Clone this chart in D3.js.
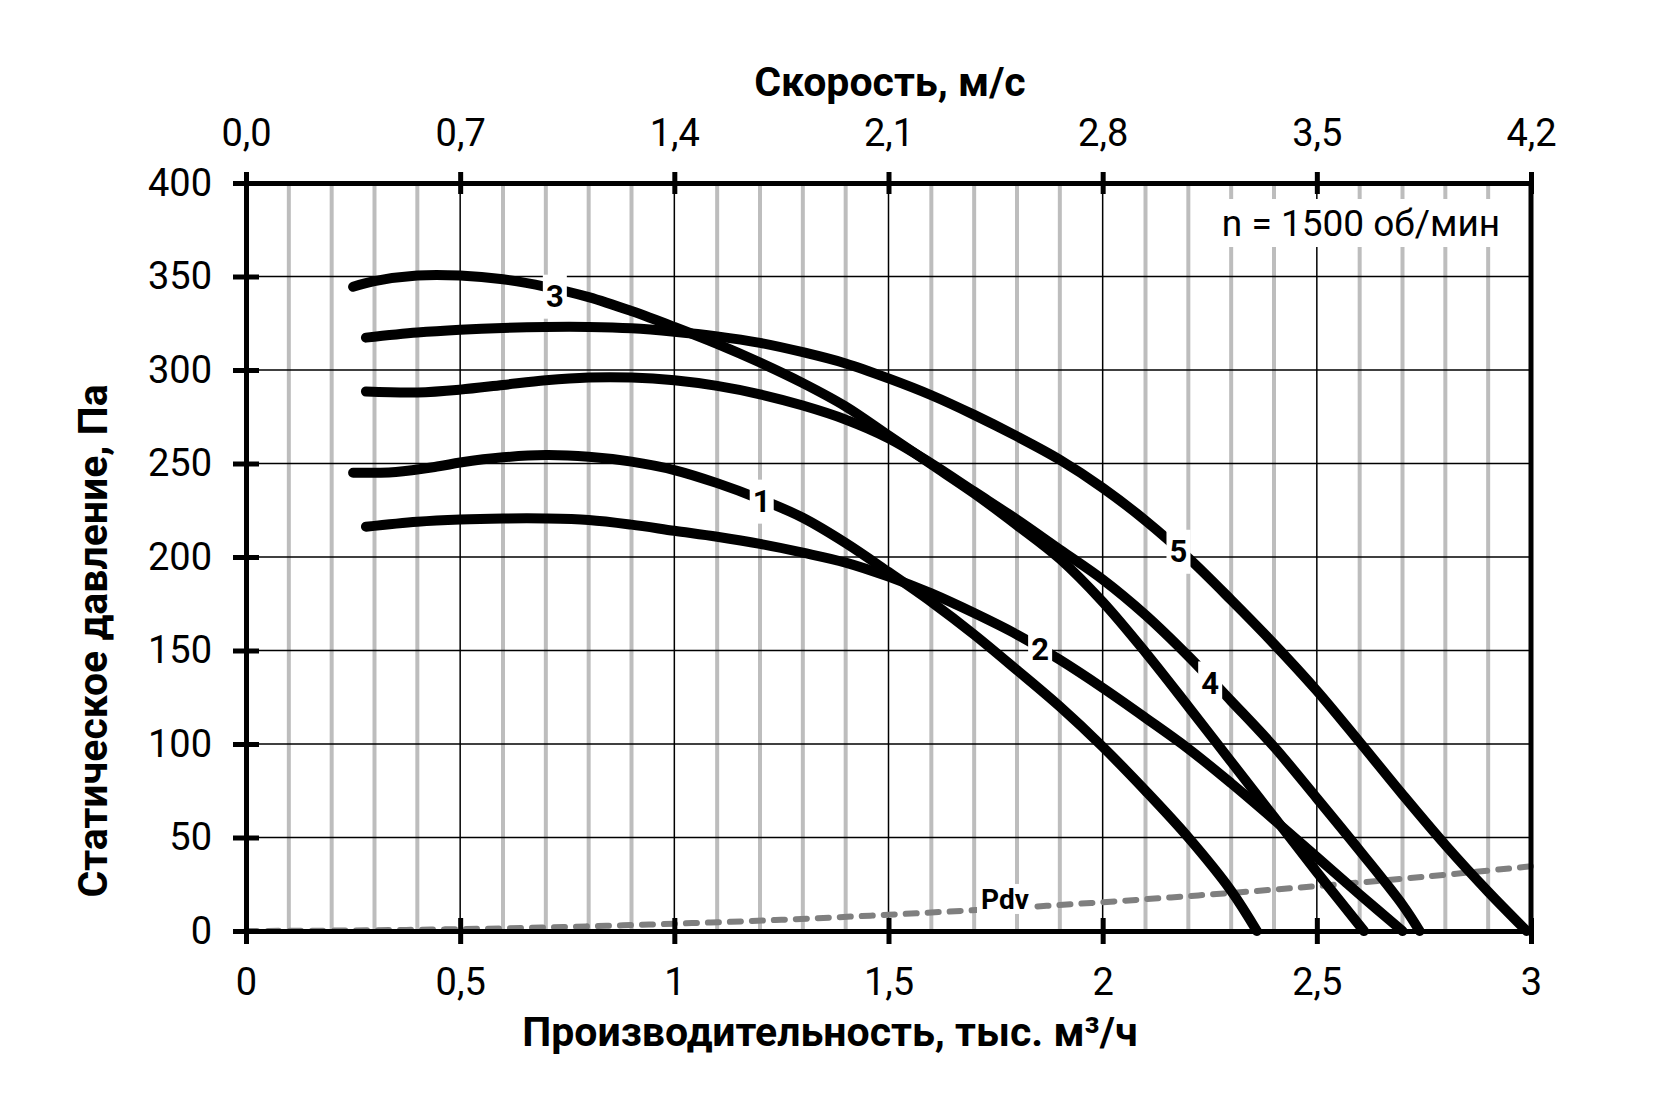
<!DOCTYPE html>
<html>
<head>
<meta charset="utf-8">
<script src="https://cdn.jsdelivr.net/npm/d3@7"></script>
<style>
  body { margin: 0; background: #fff; }
  text { font-family: Roboto, "Noto Sans", sans-serif; }
</style>
</head>
<body>
<div id="chart"></div>
<script>
"use strict";

// flow, thousand m3/h  and static pressure, Pa
var q1 = [0.25, 0.35, 0.45, 0.5, 0.6, 0.7, 0.8, 0.9, 1.0, 1.1, 1.2, 1.3, 1.4, 1.5, 1.6, 1.7, 1.8, 1.9, 2.0, 2.1, 2.2, 2.3, 2.36];
var p1 = [245, 245.5, 248.5, 250.5, 253.3, 254.5, 253.6, 251, 246.5, 239.5, 231, 221, 207.5, 192, 176, 158.5, 139.5, 120, 98.5, 75, 50, 21.5, 0];

var q2 = [0.28, 0.4, 0.5, 0.6, 0.7, 0.8, 0.9, 1.0, 1.1, 1.2, 1.3, 1.4, 1.5, 1.6, 1.7, 1.8, 1.9, 2.0, 2.1, 2.2, 2.3, 2.4, 2.5, 2.6, 2.7];
var p2 = [216.2, 218.9, 220.1, 220.6, 220.6, 219.8, 217.3, 214, 210.8, 207, 202.3, 197, 189.5, 180.5, 170, 158.5, 145, 130, 114, 97.5, 79, 59.5, 39.5, 19.5, 0];

var q3 = [0.25, 0.3, 0.4, 0.5, 0.6, 0.7, 0.8, 0.9, 1.0, 1.1, 1.2, 1.3, 1.4, 1.5, 1.6, 1.7, 1.8, 1.9, 2.0, 2.1, 2.2, 2.3, 2.4, 2.5, 2.61];
var p3 = [344.5, 347.5, 350.5, 350.5, 348.5, 344.5, 339, 331.5, 323, 314, 304, 293, 280.5, 265, 249.5, 234, 217, 199, 176, 149, 120, 90.5, 61, 31.5, 0];

var q4 = [0.28, 0.4, 0.5, 0.6, 0.7, 0.8, 0.9, 1.0, 1.1, 1.2, 1.3, 1.4, 1.5, 1.6, 1.7, 1.8, 1.9, 2.0, 2.1, 2.2, 2.3, 2.4, 2.5, 2.6, 2.7, 2.74];
var p4 = [288.5, 288, 289.5, 292, 294.5, 296, 296, 294.5, 291.5, 287, 281, 273.5, 263.5, 250, 235, 220, 204, 188, 169, 147, 123, 98.5, 71, 43, 14, 0];

var q5 = [0.28, 0.4, 0.5, 0.6, 0.7, 0.8, 0.9, 1.0, 1.1, 1.2, 1.3, 1.4, 1.5, 1.6, 1.7, 1.8, 1.9, 2.0, 2.1, 2.2, 2.3, 2.4, 2.5, 2.6, 2.7, 2.8, 2.9, 2.99];
var p5 = [317.3, 320, 321.5, 322.5, 323, 323, 322.3, 320.5, 318, 314.5, 309.5, 303.5, 295.5, 286.5, 276, 264.5, 252, 237, 219.5, 199.5, 177, 153.5, 128.5, 101, 73, 46, 21, 0];

// dynamic pressure line
var qPdv = [0, 0.25, 0.5, 0.75, 1.0, 1.25, 1.5, 1.75, 2.0, 2.25, 2.5, 2.75, 3.0];
var pPdv = [0, 0.3, 1, 2.2, 3.9, 6, 8.7, 11.8, 15.4, 19.5, 24, 29, 34.6];

// curve numbers and where they sit
var curveNames = ["1", "2", "3", "4", "5"];
var labelQ = [1.204, 1.854, 0.721, 2.251, 2.177];
var labelP = [229.6, 150.3, 339.2, 132.4, 202.8];

// ticks
var qTicks = [0, 0.5, 1, 1.5, 2, 2.5, 3];
var pTicks = [0, 50, 100, 150, 200, 250, 300, 350, 400];
var vTicks = [0, 0.7, 1.4, 2.1, 2.8, 3.5, 4.2];
var qMinor = [0.1, 0.2, 0.3, 0.4, 0.6, 0.7, 0.8, 0.9, 1.1, 1.2, 1.3, 1.4, 1.6, 1.7, 1.8, 1.9,
              2.1, 2.2, 2.3, 2.4, 2.6, 2.7, 2.8, 2.9];

var W = 1654, H = 1103;
var plotL = 246, plotR = 1531, plotT = 183, plotB = 931;

var x = d3.scaleLinear().domain([0, 3]).range([plotL, plotR]);
var xTop = d3.scaleLinear().domain([0, 4.2]).range([plotL, plotR]);
var y = d3.scaleLinear().domain([0, 400]).range([plotB, plotT]);

var comma = d => String(d).replace(".", ",");

var svg = d3.select("#chart").append("svg")
  .attr("width", W)
  .attr("height", H);

// grid
svg.append("g").selectAll("line").data(qMinor)
  .join("line")
    .attr("x1", d => x(d)).attr("x2", d => x(d))
    .attr("y1", plotT).attr("y2", plotB)
    .attr("stroke", "#bdbdbd")
    .attr("stroke-width", 4);

svg.append("g").selectAll("line").data(qTicks.slice(1, -1))
  .join("line")
    .attr("x1", d => x(d)).attr("x2", d => x(d))
    .attr("y1", plotT).attr("y2", plotB)
    .attr("stroke", "#000")
    .attr("stroke-width", 1.5);

svg.append("g").selectAll("line").data(pTicks.slice(1, -1))
  .join("line")
    .attr("x1", plotL).attr("x2", plotR)
    .attr("y1", d => y(d)).attr("y2", d => y(d))
    .attr("stroke", "#000")
    .attr("stroke-width", 1.5);

// note box
var note = svg.append("g");
var noteText = note.append("text")
  .attr("x", 1361).attr("y", 223)
  .attr("text-anchor", "middle")
  .attr("dominant-baseline", "central")
  .style("font-size", "37px")
  .text("n = 1500 об/мин");
var nb = noteText.node().getBBox();
note.insert("rect", "text")
  .attr("x", nb.x - 8).attr("y", 199)
  .attr("width", nb.width + 16).attr("height", 48)
  .attr("fill", "#fff");

// lines
var line = d3.line()
  .x(d => x(d[0]))
  .y(d => y(d[1]))
  .curve(d3.curveCatmullRom.alpha(0.5));

svg.append("path")
  .datum(d3.zip(qPdv, pPdv))
  .attr("d", line)
  .attr("fill", "none")
  .attr("stroke", "#7f7f7f")
  .attr("stroke-width", 6)
  .attr("stroke-dasharray", "11 11")
  .attr("stroke-linecap", "round");

var curves = [d3.zip(q1, p1), d3.zip(q2, p2), d3.zip(q3, p3), d3.zip(q4, p4), d3.zip(q5, p5)];

svg.append("g").selectAll("path").data(curves)
  .join("path")
    .attr("d", line)
    .attr("fill", "none")
    .attr("stroke", "#000")
    .attr("stroke-width", 10)
    .attr("stroke-linecap", "round");

// curve numbers
var lbl = svg.append("g").selectAll("g").data(curveNames)
  .join("g")
    .attr("transform", (d, i) => "translate(" + x(labelQ[i]) + "," + y(labelP[i]) + ")");
lbl.append("rect")
  .attr("x", -12).attr("y", -22)
  .attr("width", 24).attr("height", 44)
  .attr("fill", "#fff");
lbl.append("text")
  .attr("text-anchor", "middle")
  .attr("dominant-baseline", "central")
  .style("font-size", "31px")
  .style("font-weight", "bold")
  .text(d => d);

// Pdv label
var pdv = svg.append("g")
  .attr("transform", "translate(" + x(1.772) + "," + y(16.6) + ")");
pdv.append("rect")
  .attr("x", -28).attr("y", -16)
  .attr("width", 56).attr("height", 30)
  .attr("fill", "#fff");
pdv.append("text")
  .attr("text-anchor", "middle")
  .attr("dominant-baseline", "central")
  .style("font-size", "28px")
  .style("font-weight", "bold")
  .text("Pdv");

// axes
function styleAxis(g) {
  g.select(".domain").attr("stroke-width", 5).attr("stroke", "#000");
  g.selectAll(".tick line").attr("stroke-width", 5).attr("stroke", "#000");
  g.selectAll(".tick text")
    .style("font-size", "38px")
    .style("font-family", "Roboto, sans-serif")
    .attr("fill", "#000");
}

svg.append("g")
  .attr("transform", "translate(0," + plotB + ")")
  .call(d3.axisBottom(x).tickValues(qTicks).tickSize(13).tickSizeOuter(0).tickFormat(comma))
  .call(styleAxis)
  .call(g => g.selectAll(".tick line").attr("y1", -13).attr("y2", 13))
  .call(g => g.selectAll(".tick text").attr("y", 37).attr("dy", "0.71em"));

svg.append("g")
  .attr("transform", "translate(" + plotL + ",0)")
  .call(d3.axisLeft(y).tickValues(pTicks).tickSize(13).tickSizeOuter(0))
  .call(styleAxis)
  .call(g => g.selectAll(".tick line").attr("x1", 13).attr("x2", -13))
  .call(g => g.selectAll(".tick text").attr("x", -34));

svg.append("g")
  .attr("transform", "translate(0," + plotT + ")")
  .call(d3.axisTop(xTop).tickValues(vTicks).tickSize(11).tickSizeOuter(0).tickFormat(d => comma(d3.format(".1f")(d))))
  .call(styleAxis)
  .call(g => g.selectAll(".tick line").attr("y1", -11).attr("y2", 11))
  .call(g => g.selectAll(".tick text").attr("y", -37).attr("dy", "0"));

svg.append("line")
  .attr("x1", plotR).attr("x2", plotR)
  .attr("y1", plotT).attr("y2", plotB)
  .attr("stroke", "#000")
  .attr("stroke-width", 5);

// titles
svg.append("text")
  .attr("x", 890).attr("y", 82)
  .attr("text-anchor", "middle")
  .attr("dominant-baseline", "central")
  .style("font-size", "41px")
  .style("font-weight", "bold")
  .text("Скорость, м/с");

svg.append("text")
  .attr("x", 830).attr("y", 1032)
  .attr("text-anchor", "middle")
  .attr("dominant-baseline", "central")
  .style("font-size", "41px")
  .style("font-weight", "bold")
  .text("Производительность, тыс. м³/ч");

svg.append("text")
  .attr("transform", "translate(93,641) rotate(-90)")
  .attr("text-anchor", "middle")
  .attr("dominant-baseline", "central")
  .style("font-size", "41px")
  .style("font-weight", "bold")
  .text("Статическое давление, Па");
</script>
</body>
</html>
